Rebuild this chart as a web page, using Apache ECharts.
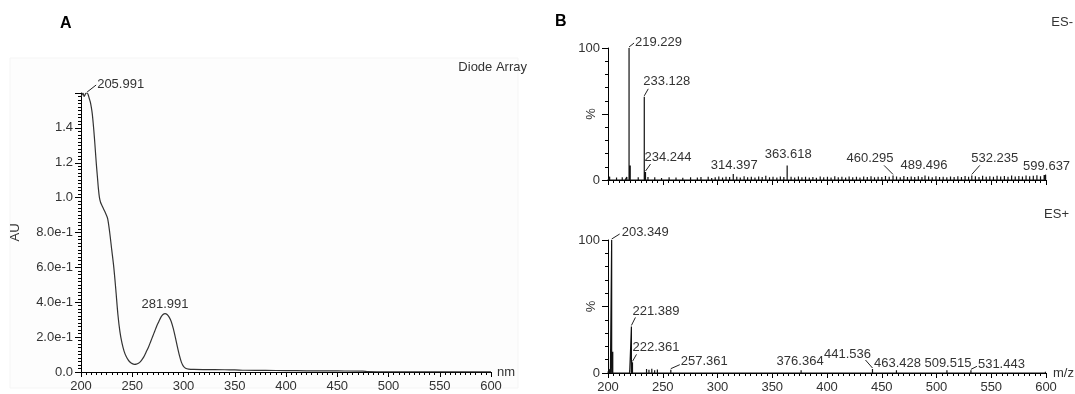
<!DOCTYPE html>
<html>
<head>
<meta charset="utf-8">
<script src="https://cdn.jsdelivr.net/npm/echarts@6/dist/echarts.min.js"></script>
<style>
html,body{margin:0;padding:0;background:#fff;}
#chart{width:1075px;height:394px;}
</style>
</head>
<body>
<div id="chart"></div>
<script>
// ---------- Panel A : UV (Diode Array) ----------
const uvWavelength = [200,201,202,203,204,205,206,207,208,209,210,211,212,213,214,215,216,217,218,219,220,222,224,226,228,230,232,234,236,238,240,242,244,246,248,250,252,254,256,258,260,262,264,266,268,270,272,274,276,278,280,282,284,286,288,290,292,294,296,298,300,302,305,310,320,340,350,360,380,400,420,450,475,480,500,550,600];
const uvAbsorbance = [1.58,1.59,1.6,1.58,1.59,1.6,1.6,1.59,1.57,1.55,1.52,1.48,1.42,1.35,1.27,1.19,1.12,1.05,1.0,0.975,0.96,0.935,0.91,0.88,0.8,0.7,0.6,0.47,0.33,0.23,0.165,0.12,0.09,0.07,0.056,0.048,0.044,0.045,0.05,0.06,0.075,0.095,0.12,0.145,0.175,0.205,0.235,0.265,0.29,0.315,0.33,0.335,0.33,0.315,0.29,0.25,0.2,0.145,0.095,0.055,0.032,0.022,0.017,0.015,0.014,0.013,0.012,0.010,0.009,0.008,0.007,0.006,0.005,0.002,0.001,0.001,0.001];
const uvPeakLabels = ['205.991','281.991'];
const uvPeakX = [206,282];
const uvPeakY = [1.6,0.335];

// ---------- Panel B : ES- spectrum ----------
const esNegMz = [219.229,233.128,234.244,314.397,363.618,460.295,489.496,532.235,599.637];
const esNegInt = [100,63,6,4.5,11,3.5,3.5,3.5,4];
const esNegLabels = ['219.229','233.128','234.244','314.397','363.618','460.295','489.496','532.235','599.637'];
const esNegNoise = [[201.5,2.5],[203,1.5],[205.2,1],[207.8,1.8],[210.5,1.2],[213,2],[215.6,1.4],[217.2,2.2],[220.3,11],[222.4,1.5],[225,1.2],[227.6,2],[230.2,1.4],[236.5,2.2],[239.1,1.3],[242.7,2],[245.3,1.1],[248.9,1.6],[252.2,1.2],[255.8,2.1],[259.4,1.3],[262.1,1.8],[265.7,1.1],[268.3,1.7],[271.9,1.2],[275.4,2],[278.2,1.4],[281.6,1.8],[284.9,2.3],[288.1,1.5],[291.5,2.4],[294.7,1.6],[297.9,2.1],[301.2,2.6],[304.6,1.8],[307.8,2.5],[311.1,2.2],[317.6,2.4],[320.8,1.9],[324.3,2.8],[327.5,2.1],[330.9,2.5],[334.2,1.8],[337.6,2.6],[340.8,2.2],[344.1,3.2],[347.5,2.1],[350.7,2.4],[354.2,1.9],[357.4,2.7],[360.6,2.2],[367.2,2.4],[370.5,1.8],[373.9,2.6],[377.1,2],[380.4,2.5],[383.8,1.9],[387.1,2.3],[390.3,1.7],[393.8,2.6],[397,2],[400.4,2.4],[403.7,1.8],[407.1,2.9],[410.3,2],[413.6,2.5],[417,1.9],[420.2,2.7],[423.5,2.1],[426.9,2.4],[430.1,1.9],[433.5,2.6],[436.8,2.2],[440.2,2.8],[443.4,2.1],[446.7,2.5],[450.1,2.2],[453.4,3],[456.8,2.4],[463.5,2.6],[466.9,2.1],[470.2,3],[473.5,2.3],[476.9,2.7],[480.1,2.2],[483.4,2.9],[486.7,2.3],[492.8,2.6],[496.1,2.1],[499.5,2.8],[502.8,2.2],[506.1,2.5],[509.4,2],[512.8,2.7],[516.1,2.2],[519.5,2.9],[522.8,2.3],[526.1,3.1],[529.3,2.4],[535.5,2.8],[538.8,2.3],[542.1,3.2],[545.4,2.5],[548.7,2.9],[552,2.4],[555.3,3.3],[558.6,2.6],[562,3],[565.3,2.5],[568.6,3.4],[571.9,2.7],[575.2,3.1],[578.5,2.6],[581.8,3.5],[585.1,2.8],[588.4,3.2],[591.7,3.6],[595,2.9],[598.3,3.8]];

// ---------- Panel B : ES+ spectrum ----------
const esPosMz = [203.349,221.389,222.361,257.361,376.364,441.536,463.428,509.515,531.443];
const esPosInt = [100,35,8,2.5,2,3,2,2,2];
const esPosLabels = ['203.349','221.389','222.361','257.361','376.364','441.536','463.428','509.515','531.443'];
const esPosNoise = [[201,3],[202.2,2],[204.35,16],[205.5,1.5],[208,1],[211.4,0.8],[214.2,1.2],[217.5,1.5],[219.8,2],[224.6,1.5],[228,1],[231.5,1.3],[235.2,3],[237.4,2.5],[240,3.2],[242.6,2],[245.1,2.6],[248.3,1.5],[251.7,1.2],[254.5,1],[260.5,0.8],[264.2,1],[268,0.7],[272.3,0.9],[276.5,0.6],[280.8,0.8],[285.1,0.7],[289.5,0.9],[293.6,0.6],[297.8,1],[302.1,0.8],[306.3,0.6],[310.6,0.9],[314.9,0.7],[319.1,1],[323.4,0.8],[327.7,0.6],[331.9,1],[336.2,0.7],[340.4,0.9],[344.7,0.6],[349,1.1],[353.2,0.8],[357.5,0.7],[361.8,1],[366,0.8],[370.3,0.9],[380.7,0.8],[385,1],[389.2,0.7],[393.5,0.9],[397.8,0.8],[402,1],[406.3,0.7],[410.5,1.1],[414.8,0.8],[419.1,0.9],[423.3,0.7],[427.6,1],[431.9,0.8],[436.1,1.2],[446,0.9],[450.3,1],[454.6,0.8],[458.8,1.1],[468,0.9],[472.3,1],[476.5,0.8],[480.8,1.1],[485.1,0.9],[489.3,1],[493.6,0.8],[497.9,1.1],[502.1,0.9],[506.4,1.2],[513,1],[517.3,0.8],[521.5,1.1],[525.8,0.9],[536,1],[540.3,0.8],[544.5,1.1],[548.8,0.9],[553.1,1.2],[557.3,0.8],[561.6,1],[565.9,0.9],[570.1,1.1],[574.4,0.8],[578.7,1],[582.9,0.9],[587.2,1.1],[591.5,0.8],[595.7,1],[599.5,0.9]];

// ---------- label placement (styling, pixel offsets from the peak top) ----------
const labelPlacement = {
  '205.991': {dx: 10, dy: -9, align: 'left', leader: [9, -8]},
  '281.991': {dx: 0, dy: -9, align: 'center'},
  '219.229': {dx: 6, dy: -6, align: 'left', leader: [5, -5]},
  '233.128': {dx: -1, dy: -15, align: 'left', leader: [4, -8]},
  '234.244': {dx: -1, dy: -15, align: 'left', leader: [5, -8]},
  '314.397': {dx: 1, dy: -9, align: 'center'},
  '363.618': {dx: 1, dy: -11, align: 'center'},
  '460.295': {dx: -23, dy: -17, align: 'center', leader: [-9, -10]},
  '489.496': {dx: -1, dy: -10, align: 'center'},
  '532.235': {dx: 23, dy: -17, align: 'center', leader: [8, -10]},
  '599.637': {dx: 1, dy: -8, align: 'center'},
  '203.349': {dx: 10, dy: -8, align: 'left', leader: [8, -6]},
  '221.389': {dx: 1, dy: -15, align: 'left', leader: [4, -9]},
  '222.361': {dx: 0, dy: -15, align: 'left', leader: [4, -8]},
  '257.361': {dx: 10, dy: -8, align: 'left', leader: [9, -5]},
  '376.364': {dx: -1, dy: -9, align: 'center'},
  '441.536': {dx: -25, dy: -15, align: 'center', leader: [-7, -9]},
  '463.428': {dx: 1, dy: -7, align: 'center'},
  '509.515': {dx: 1, dy: -7, align: 'center'},
  '531.443': {dx: 7, dy: -6, align: 'left', leader: [6, -4]}
};

const FONT = '"Liberation Sans", Arial, sans-serif';
const TXT = '#333';

function sticks(mz, inten, noise) {
  const pts = mz.map((m, i) => [m, inten[i]]).concat(noise);
  pts.sort((a, b) => a[0] - b[0]);
  const out = [[200, 0]];
  pts.forEach(p => { out.push([p[0], 0], [p[0], p[1]], [p[0], 0]); });
  out.push([600, 0]);
  return out;
}

function labelRenderer(labels) {
  return function (params, api) {
    const i = api.value(2);
    const p = api.coord([api.value(0), api.value(1)]);
    const pl = labelPlacement[labels[i]];
    const children = [];
    if (pl.leader) {
      children.push({type: 'line', shape: {x1: p[0], y1: p[1] - 1, x2: p[0] + pl.leader[0], y2: p[1] + pl.leader[1]},
        style: {stroke: '#222', lineWidth: 1}});
    }
    children.push({type: 'text', style: {text: labels[i], x: p[0] + pl.dx, y: p[1] + pl.dy,
      align: pl.align, verticalAlign: 'middle', font: '13px ' + FONT, fill: TXT}});
    return {type: 'group', children: children};
  };
}

function labelData(xs, ys) { return xs.map((x, i) => [x, ys[i], i]); }

const chart = echarts.init(document.getElementById('chart'), null, {renderer: 'canvas'});

const axisLineStyle = {show: true, lineStyle: {color: '#000', width: 1}};

function msXAxis(gridIndex, showLabels) {
  return {
    type: 'value', gridIndex: gridIndex, min: 200, max: 600, interval: 50,
    axisLine: axisLineStyle,
    axisTick: {show: true, length: 5, lineStyle: {color: '#000'}},
    minorTick: {show: true, splitNumber: 10, length: 3, lineStyle: {color: '#000'}},
    splitLine: {show: false},
    axisLabel: {show: showLabels, margin: 8, fontFamily: FONT, fontSize: 13, color: TXT},
    name: showLabels ? 'm/z' : '', nameLocation: 'end', nameGap: 7, nameMoveOverlap: false,
    nameTextStyle: {fontFamily: FONT, fontSize: 13, color: TXT, verticalAlign: 'middle', padding: [0, 0, 4, 0]}
  };
}

function msYAxis(gridIndex) {
  return {
    type: 'value', gridIndex: gridIndex, min: 0, max: 100, interval: 50,
    axisLine: axisLineStyle,
    axisTick: {show: true, length: 6, lineStyle: {color: '#000'}},
    minorTick: {show: true, splitNumber: 5, length: 3, lineStyle: {color: '#000'}},
    splitLine: {show: false},
    axisLabel: {margin: 8, fontFamily: FONT, fontSize: 13, color: TXT,
      formatter: v => (v === 50 ? '' : String(v))},
    name: '%', nameLocation: 'middle', nameGap: 10, nameRotate: 90, nameMoveOverlap: false,
    nameTextStyle: {fontFamily: FONT, fontSize: 13, color: TXT}
  };
}

const option = {
  animation: false,
  backgroundColor: '#fff',
  grid: [
    {left: 81, right: 584, top: 93, bottom: 22},
    {left: 608, right: 29, top: 48, bottom: 214},
    {left: 608, right: 29, top: 240, bottom: 21}
  ],
  xAxis: [
    {
      type: 'value', gridIndex: 0, min: 200, max: 600, interval: 50,
      axisLine: axisLineStyle,
      axisTick: {show: true, length: 5, lineStyle: {color: '#000'}},
      minorTick: {show: true, splitNumber: 10, length: 3, lineStyle: {color: '#000'}},
      splitLine: {show: false},
      axisLabel: {margin: 8, fontFamily: FONT, fontSize: 13, color: TXT},
      name: 'nm', nameLocation: 'end', nameGap: 6, nameMoveOverlap: false,
      nameTextStyle: {fontFamily: FONT, fontSize: 13, color: TXT, verticalAlign: 'middle', padding: [0, 0, 4, 0]}
    },
    msXAxis(1, false),
    msXAxis(2, true)
  ],
  yAxis: [
    {
      type: 'value', gridIndex: 0, min: 0, max: 1.6, interval: 0.2,
      axisLine: axisLineStyle,
      axisTick: {show: true, length: 6, lineStyle: {color: '#000'}},
      minorTick: {show: true, splitNumber: 10, length: 3, lineStyle: {color: '#000'}},
      splitLine: {show: false},
      axisLabel: {margin: 8, fontFamily: FONT, fontSize: 13, color: TXT,
        formatter: function (v) {
          if (Math.abs(v) < 1e-9) return '0.0';
          if (v > 1.55) return '';
          if (v < 0.99) return (v * 10).toFixed(1) + 'e-1';
          return v.toFixed(1);
        }},
      name: 'AU', nameLocation: 'middle', nameGap: 59, nameRotate: 90, nameMoveOverlap: false,
      nameTextStyle: {fontFamily: FONT, fontSize: 13, color: TXT}
    },
    msYAxis(1),
    msYAxis(2)
  ],
  graphic: [
    {type: 'rect', silent: true, z: -10, shape: {x: 10, y: 58, width: 508, height: 330},
      style: {fill: '#fdfdfd', stroke: '#f5f5f5', lineWidth: 1}},
    {type: 'text', left: 60, top: 16, style: {text: 'A', font: 'bold 16px ' + FONT, fill: '#000'}},
    {type: 'text', left: 555, top: 14, style: {text: 'B', font: 'bold 16px ' + FONT, fill: '#000'}},
    {type: 'text', right: 548, top: 61, style: {text: 'Diode Array', font: '13px ' + FONT, fill: TXT}},
    {type: 'text', right: 2, top: 16, style: {text: 'ES-', font: '13px ' + FONT, fill: TXT}},
    {type: 'text', right: 6, top: 208, style: {text: 'ES+', font: '13px ' + FONT, fill: TXT}}
  ],
  series: [
    {
      type: 'line', xAxisIndex: 0, yAxisIndex: 0, showSymbol: false, smooth: 0.3,
      data: uvWavelength.map((w, i) => [w, uvAbsorbance[i]]),
      lineStyle: {color: '#333', width: 1.2}
    },
    {type: 'custom', xAxisIndex: 0, yAxisIndex: 0, clip: false,
      renderItem: labelRenderer(uvPeakLabels), data: labelData(uvPeakX, uvPeakY)},
    {
      type: 'line', xAxisIndex: 1, yAxisIndex: 1, showSymbol: false,
      data: sticks(esNegMz, esNegInt, esNegNoise),
      lineStyle: {color: '#111', width: 1.2}
    },
    {type: 'custom', xAxisIndex: 1, yAxisIndex: 1, clip: false,
      renderItem: labelRenderer(esNegLabels), data: labelData(esNegMz, esNegInt)},
    {
      type: 'line', xAxisIndex: 2, yAxisIndex: 2, showSymbol: false,
      data: sticks(esPosMz, esPosInt, esPosNoise),
      lineStyle: {color: '#111', width: 1.2}
    },
    {type: 'custom', xAxisIndex: 2, yAxisIndex: 2, clip: false,
      renderItem: labelRenderer(esPosLabels), data: labelData(esPosMz, esPosInt)}
  ]
};
chart.setOption(option);
</script>
</body>
</html>
